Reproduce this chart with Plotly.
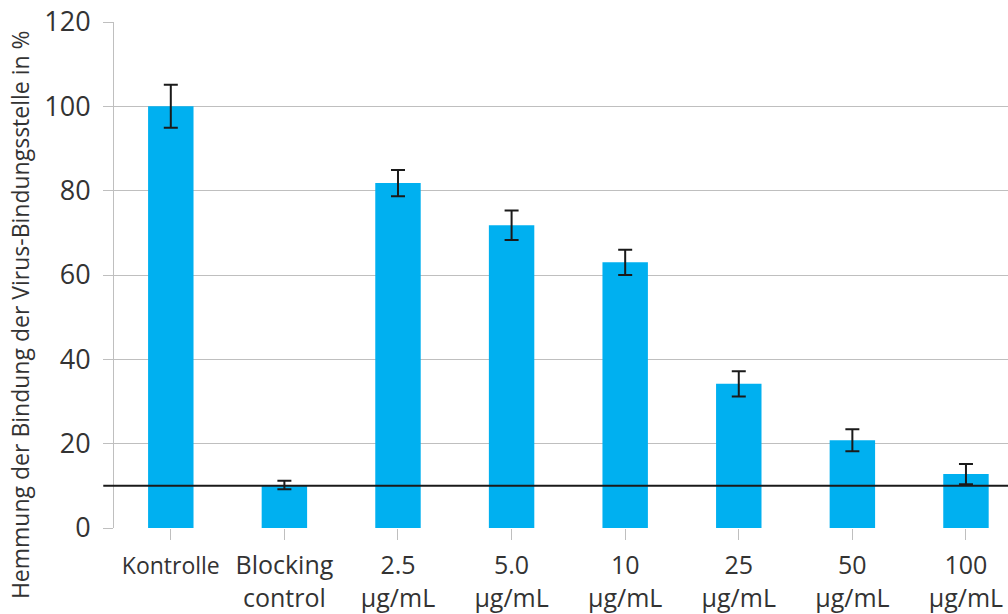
import plotly.graph_objects as go

categories = ["Kontrolle", "Blocking<br>control", "2.5<br>µg/mL", "5.0<br>µg/mL", "10<br>µg/mL",
              "25<br>µg/mL", "50<br>µg/mL", "100<br>µg/mL"]
values = [100, 10.2, 81.8, 71.8, 63.0, 34.2, 20.8, 12.8]
errors = [5.1, 1.0, 3.1, 3.5, 3.0, 3.0, 2.6, 2.4]
threshold = 10
y_ticks = [0, 20, 40, 60, 80, 100, 120]
y_title = "Hemmung der Bindung der Virus-Bindungsstelle in %"

tick_text = ['<span style="font-size:23px">Kontrolle</span>'] + categories[1:]

fig = go.Figure()
fig.add_trace(go.Bar(
    x=list(range(len(categories))), y=values,
    width=0.4,
    marker=dict(color="#00B0F0", line=dict(width=0)),
    error_y=dict(type="data", array=errors, visible=True, color="#1a1a1a", thickness=2, width=7),
))
fig.add_shape(type="line", xref="paper", yref="y", x0=-0.012, x1=1, y0=threshold, y1=threshold,
              line=dict(color="#1a1a1a", width=2))

fig.add_annotation(text=y_title, xref="paper", yref="paper", x=-0.105, y=0.421,
                   xanchor="center", yanchor="middle", textangle=-90, showarrow=False,
                   font=dict(size=23, color="#333333"))

fig.update_layout(
    width=1008, height=614,
    margin=dict(l=114, r=0, t=22, b=86),
    plot_bgcolor="white", paper_bgcolor="white",
    showlegend=False,
    font=dict(family="Open Sans", color="#333333"),
    xaxis=dict(
        range=[-0.5, 7.37], automargin=False,
        tickmode="array", tickvals=list(range(len(categories))), ticktext=tick_text,
        tickfont=dict(size=25, color="#333333"),
        ticks="outside", tickson="boundaries", ticklen=11, tickcolor="#bfbfbf", tickwidth=1,
        ticklabelstandoff=4,
        showline=False, showgrid=False, zeroline=False,
    ),
    yaxis=dict(
        range=[0, 120], tickvals=y_ticks, automargin=False,
        tickfont=dict(size=27, color="#333333"),
        ticks="outside", ticklen=10, tickcolor="#bfbfbf", tickwidth=1,
        ticklabelstandoff=7,
        showgrid=True, gridcolor="#bfbfbf", gridwidth=1,
        showline=True, linecolor="#bfbfbf", linewidth=1,
        zeroline=False,
    ),
)

fig.write_html("out.html", config={"displayModeBar": False},
               post_script="document.body.style.margin='0';")
